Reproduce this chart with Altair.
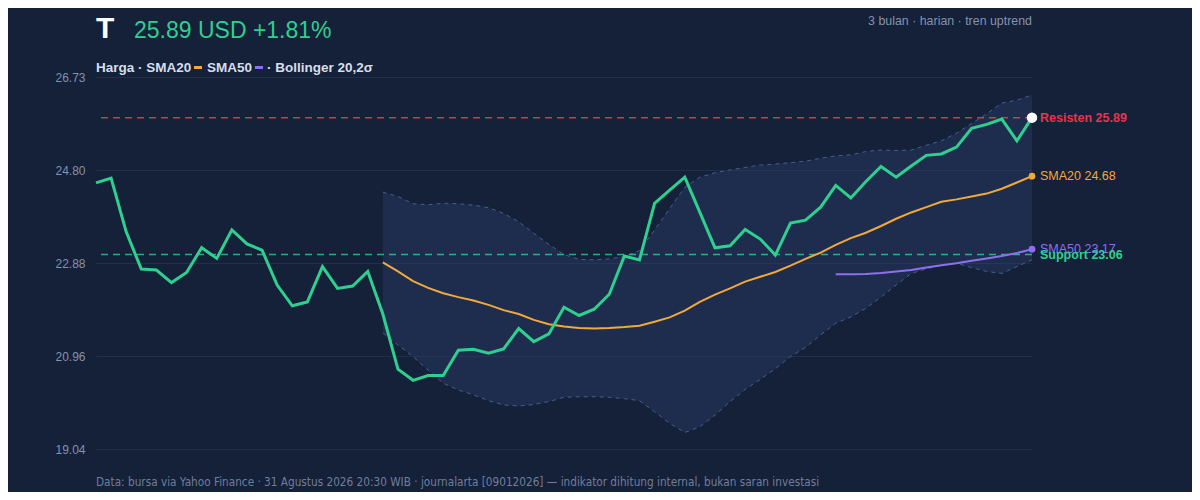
"""Price chart for T: close, SMA20, SMA50 and Bollinger band, dark theme."""

import altair as alt
import pandas as pd

# ---- data -------------------------------------------------------------------
price = [
    24.54, 24.64, 23.53, 22.76, 22.74, 22.48, 22.69, 23.20, 22.98, 23.57,
    23.28, 23.15, 22.43, 22.00, 22.08, 22.81, 22.36, 22.41, 22.71, 21.83,
    20.69, 20.46, 20.56, 20.56, 21.08, 21.10, 21.02, 21.11, 21.53, 21.26,
    21.42, 21.97, 21.80, 21.93, 22.24, 23.03, 22.95, 24.12, 24.39, 24.66,
    23.93, 23.20, 23.24, 23.58, 23.38, 23.05, 23.71, 23.77, 24.04, 24.49,
    24.23, 24.57, 24.88, 24.66, 24.89, 25.11, 25.14, 25.28, 25.67, 25.75,
    25.86, 25.41, 25.89,
]
# SMA20 and Bollinger band start at day 19, SMA50 at day 49
sma20 = [
    22.90, 22.71, 22.51, 22.37, 22.26, 22.18, 22.11, 22.02, 21.91, 21.83,
    21.71, 21.62, 21.57, 21.54, 21.53, 21.54, 21.56, 21.59, 21.67, 21.76,
    21.90, 22.08, 22.23, 22.36, 22.50, 22.60, 22.70, 22.83, 22.97, 23.10,
    23.26, 23.40, 23.51, 23.65, 23.80, 23.93, 24.04, 24.15, 24.20, 24.26,
    24.32, 24.42, 24.55, 24.68,
]
bb_upper = [
    24.35, 24.26, 24.11, 24.09, 24.12, 24.11, 24.08, 24.03, 23.91, 23.74,
    23.50, 23.27, 23.06, 22.96, 22.95, 22.97, 23.02, 23.14, 23.57, 24.01,
    24.45, 24.66, 24.75, 24.81, 24.86, 24.91, 24.93, 24.96, 24.99, 25.05,
    25.10, 25.12, 25.19, 25.22, 25.21, 25.22, 25.32, 25.41, 25.57, 25.77,
    25.97, 26.19, 26.25, 26.36,
]
bb_lower = [
    21.44, 21.19, 20.95, 20.67, 20.40, 20.26, 20.16, 20.04, 19.95, 19.93,
    19.96, 20.02, 20.11, 20.12, 20.12, 20.11, 20.08, 20.04, 19.81, 19.57,
    19.38, 19.50, 19.74, 20.02, 20.27, 20.48, 20.70, 20.95, 21.14, 21.40,
    21.64, 21.77, 21.95, 22.18, 22.43, 22.67, 22.76, 22.84, 22.88, 22.79,
    22.71, 22.67, 22.81, 22.95,
]
sma50 = [
    22.65, 22.65, 22.66, 22.68, 22.71, 22.74, 22.79, 22.84, 22.88, 22.93,
    22.98, 23.03, 23.09, 23.17,
]
resistance = 25.89
support = 23.06
y_ticks = [19.04, 20.96, 22.88, 24.80, 26.73]

# ---- colours / fonts --------------------------------------------------------
BG = "#152039"
GREEN = "#2fcf8f"
ORANGE = "#f2a93b"
PURPLE = "#8f6ef0"
RED = "#e8334f"
BAND_LINE = "#42608f"
MUTED = "#8392ad"
FONT = "Liberation Sans"
NARROW = "Liberation Sans Narrow, DejaVu Sans Condensed, Liberation Sans"

W, H = 936, 372
n = len(price)
start20 = n - len(sma20)
start50 = n - len(sma50)

df_price = pd.DataFrame({"day": range(n), "value": price})
df_sma20 = pd.DataFrame({"day": range(start20, n), "value": sma20})
df_sma50 = pd.DataFrame({"day": range(start50, n), "value": sma50})
df_band = pd.DataFrame(
    {"day": range(start20, n), "upper": bb_upper, "lower": bb_lower}
)
df_end = pd.DataFrame(
    {
        "day": [n - 1, n - 1, n - 1, n - 1],
        "value": [resistance, sma20[-1], sma50[-1], support],
        "label": [
            f"Resisten {resistance:.2f}",
            f"SMA20 {sma20[-1]:.2f}",
            f"SMA50 {sma50[-1]:.2f}",
            f"Support {support:.2f}",
        ],
        "color": [RED, ORANGE, PURPLE, GREEN],
        "weight": ["bold", "normal", "normal", "bold"],
    }
)
df_dots = pd.DataFrame(
    {
        "day": [n - 1, n - 1, n - 1],
        "value": [sma20[-1], sma50[-1], price[-1]],
        "color": [ORANGE, PURPLE, "#ffffff"],
        "size": [45, 45, 110],
    }
)

x_enc = alt.X(
    "day:Q", scale=alt.Scale(domain=[0, n - 1], nice=False, zero=False), axis=None
)
y_scale = alt.Scale(domain=[y_ticks[0], y_ticks[-1]], nice=False, zero=False)
y_axis = alt.Axis(
    values=y_ticks,
    format=".2f",
    title=None,
    ticks=False,
    domain=False,
    grid=True,
    gridColor="#222f4c",
    gridWidth=1.2,
    labelColor=MUTED,
    labelFont=FONT,
    labelFontSize=12,
    labelPadding=11,
)


def y_enc(field):
    return alt.Y(f"{field}:Q", scale=y_scale, axis=y_axis)


band = (
    alt.Chart(df_band)
    .mark_area(color="#2b4168", opacity=0.42)
    .encode(x=x_enc, y=y_enc("upper"), y2="lower:Q")
)
band_edges = alt.layer(
    *[
        alt.Chart(df_band)
        .mark_line(color=BAND_LINE, strokeWidth=1, strokeDash=[4, 4])
        .encode(x=x_enc, y=y_enc(col))
        for col in ("upper", "lower")
    ]
)


def level_rule(value, color, opacity):
    return (
        alt.Chart(pd.DataFrame({"value": [value]}))
        .mark_rule(color=color, strokeWidth=1.5, strokeDash=[7, 5], opacity=opacity)
        .encode(y=y_enc("value"))
    )


levels = alt.layer(level_rule(resistance, "#e6304b", 1), level_rule(support, GREEN, 0.8))

line_sma50 = (
    alt.Chart(df_sma50)
    .mark_line(color=PURPLE, strokeWidth=2)
    .encode(x=x_enc, y=y_enc("value"))
)
line_sma20 = (
    alt.Chart(df_sma20)
    .mark_line(color=ORANGE, strokeWidth=2)
    .encode(x=x_enc, y=y_enc("value"))
)
line_price = (
    alt.Chart(df_price)
    .mark_line(color=GREEN, strokeWidth=3, strokeJoin="miter")
    .encode(x=x_enc, y=y_enc("value"))
)
dots = (
    alt.Chart(df_dots)
    .mark_circle(opacity=1)
    .encode(
        x=x_enc,
        y=y_enc("value"),
        color=alt.Color("color:N", scale=None),
        size=alt.Size("size:Q", scale=None),
    )
)
end_labels = alt.layer(
    *[
        alt.Chart(df_end[df_end["weight"] == w])
        .mark_text(
            align="left", baseline="middle", dx=8, font=FONT,
            fontSize=12.5, fontWeight=w,
        )
        .encode(
            x=x_enc,
            y=y_enc("value"),
            text="label:N",
            color=alt.Color("color:N", scale=None),
        )
        for w in ("normal", "bold")
    ]
)


def header_text(text, x, y, size, color, weight="normal", align="left", font=FONT):
    return (
        alt.Chart(pd.DataFrame({"t": [text]}))
        .mark_text(
            align=align, baseline="alphabetic", font=font, fontSize=size,
            fontWeight=weight, color=color,
        )
        .encode(x=alt.value(x), y=alt.value(y), text="t:N")
    )


def legend_dash(x0, x1, color):
    return (
        alt.Chart(pd.DataFrame({"k": [0]}))
        .mark_rule(color=color, strokeWidth=3)
        .encode(x=alt.value(x0), x2=alt.value(x1), y=alt.value(-9.5))
    )


headers = alt.layer(
    header_text("T", 0, -39, 30, "#ffffff", "bold"),
    header_text("25.89 USD +1.81%", 38, -39, 23, GREEN),
    header_text("3 bulan · harian · tren uptrend", W, -52, 12.4, MUTED, align="right"),
    header_text("Harga · SMA20", 0, -5, 13.5, "#d6deea", "bold"),
    legend_dash(98, 106, ORANGE),
    header_text("SMA50", 111, -5, 13.5, "#d6deea", "bold"),
    legend_dash(159, 167, PURPLE),
    header_text("· Bollinger 20,2σ", 171, -5, 13.5, "#d6deea", "bold"),
    header_text(
        "Data: bursa via Yahoo Finance · 31 Agustus 2026 20:30 WIB · "
        "journalarta [09012026] — indikator dihitung internal, bukan saran investasi",
        0, 409, 11.7, "#6f7f9a", font=NARROW,
    ),
)

chart = (
    alt.layer(
        band, band_edges, levels, line_sma50, line_sma20, line_price,
        dots, end_labels, headers,
    )
    .properties(
        width=W,
        height=H,
        autosize=alt.AutoSizeParams(type="none"),
        padding={"left": 88, "top": 69, "right": 160, "bottom": 43},
        background=BG,
    )
    .configure_view(stroke=None)
)

chart.save("out.html", embed_options={"renderer": "svg", "actions": False})
